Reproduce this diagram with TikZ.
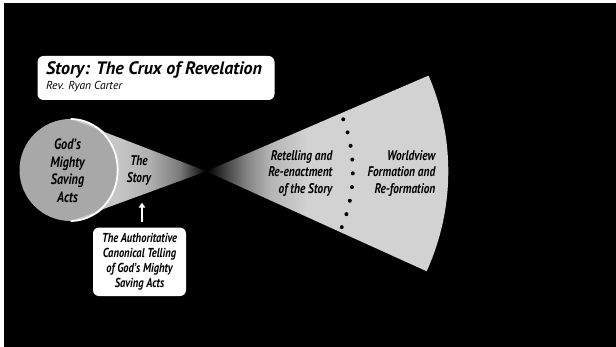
\documentclass[tikz,border=0pt]{standalone}
\usepackage{fontspec}
\setmainfont{PT Sans}
\newfontfamily\lblfont[FakeStretch=0.81]{PT Sans}
\usetikzlibrary{arrows.meta}
\definecolor{circgray}{HTML}{A8A8A8}
\definecolor{conelight}{HTML}{C6C6C6}
\definecolor{conemid}{HTML}{B0B0B0}
\definecolor{conedark}{HTML}{7A7A7A}
\definecolor{rc1}{HTML}{404040}
\definecolor{rc2}{HTML}{808080}
\definecolor{rc3}{HTML}{B5B5B5}
\definecolor{rc4}{HTML}{CCCCCC}
\definecolor{rcflat}{HTML}{D2D2D2}
\pgfdeclarehorizontalshading{leftcone}{100bp}{color(0bp)=(conelight); color(25bp)=(conelight); color(43bp)=(conemid); color(60bp)=(conedark); color(75bp)=(black); color(100bp)=(black)}
\pgfdeclarehorizontalshading{rightcone}{100bp}{color(0bp)=(black); color(25bp)=(black); color(34.5bp)=(rc1); color(44.5bp)=(rc2); color(57bp)=(rc3); color(72bp)=(rc4); color(75bp)=(rcflat); color(100bp)=(rcflat)}
\begin{document}
\begin{tikzpicture}[x=1pt,y=-1pt,
  lbl/.style={font=\lblfont\bfseries\itshape\fontsize{14}{16.3}\selectfont, text=black, inner sep=0pt},
  circlbl/.style={lbl, font=\lblfont\bfseries\itshape\fontsize{15}{17.8}\selectfont, align=center},
  boxlbl/.style={font=\lblfont\bfseries\itshape\fontsize{13}{14.7}\selectfont, fill=white, rounded corners=6pt, align=center, inner sep=0pt, minimum width=93pt, minimum height=68.5pt},
  whitebox/.style={fill=white, rounded corners=6pt, minimum width=237pt, minimum height=44pt, inner sep=0pt},
  whitearrow/.style={white, line width=2pt, -{Triangle[width=6.5pt,length=5pt]}},
  dotst/.style={fill=black}]
\useasboundingbox (0,0) rectangle (616,347);
\fill[white] (0,0) rectangle (616,347);
\fill[black] (4,3) rectangle (616,347);
% circle
\fill[circgray] (70.5,170) circle[radius=51];
% left cone
\begin{scope}
  \clip (70.7,119) -- (206.3,171.3) -- (70.7,221) arc[start angle=90,end angle=-90,x radius=47,y radius=51] -- cycle;
  \fill[conelight] (60,100) rectangle (118,240);
  \shade[shading=leftcone] (118,100) rectangle (206.3,240);
\end{scope}
\draw[white, line width=1.8pt] (70.7,119) arc[start angle=-90,end angle=90,x radius=47,y radius=51];
% right sector
\begin{scope}
  \clip (206.3,171.3) -- ++(-23.3:242) arc[start angle=-23.3,end angle=24.4,radius=242] -- cycle;
  \shade[shading=rightcone] (206.3,60) rectangle (306.3,290);
  \fill[rcflat] (306.3,60) rectangle (460,290);
\end{scope}
% dots
\foreach \a in {0,...,8}
  \fill[dotst, shift={(206.3,171.3)}] ({-20.8+5.4*\a}:146.5) circle[radius=2];
% title box
\node[whitebox] (tbox) at (156,78) {};
\node[anchor=base west, inner sep=0pt, font=\bfseries\itshape\fontsize{18}{20}\selectfont] (ttl) at (46,75) {Story: The Crux of Revelation};
\node[anchor=base west, inner sep=0pt, font=\itshape\fontsize{11.5}{12}\selectfont] (sub) at (46,89.5) {Rev. Ryan Carter};
% labels
\node[circlbl] (gods) at (67.5,170.7) {God’s\\Mighty\\Saving\\Acts};
\node[lbl, align=center] (story) at (139,170.5) {The\\Story};
\node[lbl, align=right, anchor=east] (retell) at (332.5,173.3) {Retelling and\\Re-enactment\\of the Story};
\node[lbl, align=right, anchor=east] (world) at (435.5,173.3) {Worldview\\Formation and\\Re-formation};
% bottom box and arrow
\node[boxlbl] (canon) at (139.5,261.8) {The Authoritative\\Canonical Telling\\of God’s Mighty\\Saving Acts};
\coordinate (tip) at (142,202.7);
\draw[whitearrow, shorten <=5.5pt] (canon.north -| tip) -- (tip);
\end{tikzpicture}
\end{document}
